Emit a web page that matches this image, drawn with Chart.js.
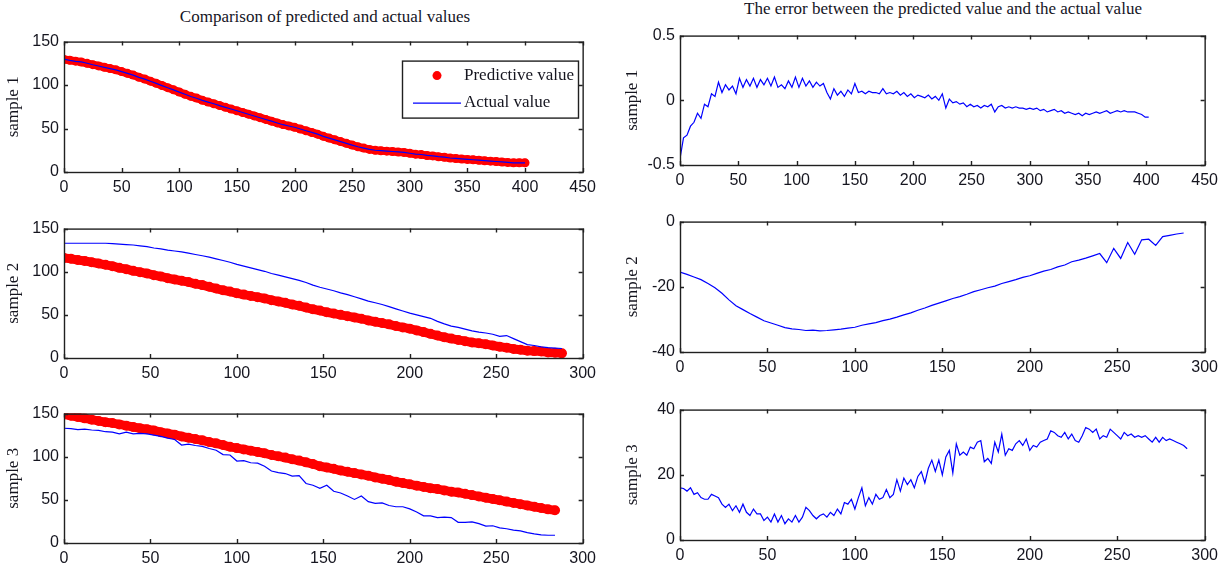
<!DOCTYPE html>
<html>
<head>
<meta charset="utf-8">
<title>Predicted vs actual</title>
<script src="https://cdn.jsdelivr.net/npm/chart.js@4.4.1/dist/chart.umd.min.js"></script>
<style>
  html, body { margin: 0; padding: 0; background: #fff; }
  #wrap { position: relative; width: 1229px; height: 572px; overflow: hidden; background: #fff; }
  #wrap canvas { position: absolute; }
  .ttl {
    position: absolute; white-space: nowrap; transform: translateX(-50%);
    font-family: 'Liberation Serif', 'Times New Roman', serif; font-size: 17px; color: #15151f;
  }
</style>
</head>
<body>
<div id="wrap">
  <div class="ttl" style="left:325px; top:7px;">Comparison of predicted and actual values</div>
  <div class="ttl" style="left:943px; top:-1px;">The error between the predicted value and the actual value</div>
</div>
<script>
(function () {
  'use strict';

  // sample index spacing of each stored series
  var s1Step = 5, s1ErrStep = 3;
  var s2Step = 4;
  var s3Step = 4, s3ErrStep = 2;

  // sample 1
  var s1Pred = [129.5,128.5,127.5,126.5,125,123.5,122,120.5,119,117.5,115.5,113.5,111.5,109,107,104.5,102,99.5,97,94.5,
    92,89.5,87,85,82.5,80.5,78.5,76.5,74.5,72.5,70.5,68.5,66.5,64.5,62.5,60.5,58.5,56.5,54.5,53,
    51.5,49.5,47.5,45.5,43.5,41,39,37,35,33,31,29,27.5,26,25,24.5,24,23.5,23,22.5,
    21.5,20.5,20,19,18.5,17.5,17,16,15.5,15,14.5,14,13.5,13,12.5,12,11.5,11,10.5,10.5,10.5];
  var s1Actual = [129.9,128.4,127.3,126.6,125.1,123.4,121.9,120.4,118.9,117.4,115.4,113.4,111.4,108.9,106.9,104.4,101.9,99.4,96.9,94.4,
    91.9,89.4,86.9,84.9,82.4,80.4,78.5,76.4,74.4,72.5,70.4,68.4,66.4,64.4,62.4,60.4,58.5,56.4,54.4,52.9,
    51.5,49.5,47.5,45.5,43.5,41,39,37,35,33,31,29,27.5,26,25,24.5,24,23.6,23.1,22.6,
    21.6,20.6,20.1,19.1,18.6,17.6,17.1,16.1,15.6,15.1,14.6,14.1,13.6,13.1,12.6,12.1,11.6,11.1,10.6,10.6,10.6];
  var s1Err = [-0.45,-0.29,-0.27,-0.2,-0.17,-0.1,-0.14,-0.03,-0.05,0.05,0.03,0.14,0.06,0.12,0.08,0.11,0.05,0.17,0.1,0.16,
    0.11,0.17,0.1,0.16,0.12,0.17,0.11,0.18,0.1,0.12,0.09,0.15,0.1,0.18,0.1,0.17,0.11,0.15,0.1,0.14,
    0.11,0.13,0.06,0.01,0.09,0.04,0.07,0.03,0.08,0.05,0.13,0.06,0.07,0.05,0.07,0.06,0.06,0.05,0.09,0.05,
    0.06,0.05,0.07,0.04,0.06,0.03,0.05,0.02,0.04,0.03,0.02,0.04,0.01,0.03,0,0.05,-0.06,0.01,-0.02,-0.01,
    -0.03,-0.02,-0.05,-0.03,-0.05,-0.04,-0.06,-0.04,-0.05,-0.03,-0.09,-0.05,-0.04,-0.06,-0.05,-0.06,-0.05,-0.06,-0.06,-0.07,
    -0.06,-0.07,-0.06,-0.08,-0.07,-0.09,-0.08,-0.07,-0.09,-0.08,-0.1,-0.09,-0.1,-0.11,-0.1,-0.12,-0.1,-0.11,-0.1,-0.09,
    -0.1,-0.09,-0.08,-0.1,-0.09,-0.08,-0.09,-0.08,-0.09,-0.09,-0.09,-0.1,-0.11,-0.13,-0.13];

  // sample 2
  var s2Pred = [116,115,113.5,112.5,111,109.5,108,106.5,104.5,103,101,99.5,98,96,94.5,92.5,91,89.5,88,86,
    84.5,82.5,80.5,78.5,77,75,73.5,72,70.5,69,67,65.5,64,62,60.5,58.5,56.5,55,53,51.5,
    50,48.5,47,45.5,43.5,42,40.5,39,37,35.5,34,32,30,28,26,24,22.5,21,19.5,18,
    17,16,14.5,13,12,10.5,9.5,8.5,8,7.5,6.5,6,5.5];
  var s2Actual = [133,133,133,133,133,133,133,132.5,132,131.5,131,130,129,127.5,126.5,125,124,123,121.5,120,
    118.5,117,115,113,111,108.5,106.5,104.5,102.5,100.5,98,96,94,92,90,87.5,84.5,82,80,78,
    75.5,73.5,71,68.5,66,64,62,59.5,57,54.5,52,50,48,46,42.5,39.5,37,35.5,33.5,31.5,
    30,29,27.5,25,26,22.5,19,15.5,14.5,13,12,11.5,11];
  var s2Err = [-15.5,-16.2,-17,-17.8,-19,-20.3,-22,-24,-25.8,-27,-28.2,-29.3,-30.4,-31.1,-31.8,-32.5,-32.9,-33.1,-33.4,-33.3,
    -33.5,-33.4,-33.2,-33,-32.7,-32.4,-31.8,-31.4,-31,-30.4,-29.9,-29.3,-28.6,-28,-27.2,-26.5,-25.7,-25,-24.3,-23.6,
    -23,-22.3,-21.5,-20.9,-20.3,-19.8,-19,-18.4,-17.8,-17.1,-16.6,-15.9,-15.2,-14.7,-13.9,-13.3,-12.3,-11.8,-11.2,-10.5,
    -9.8,-12.6,-8.2,-11.3,-6.4,-10,-5.6,-5.4,-7.3,-4.6,-4.2,-3.8,-3.5];

  // sample 3
  var s3Pred = [149,147.5,146,144.5,143,141.5,140,139,137.5,136,134.5,133,132,130.5,128.5,127,125.5,123.5,122,120.5,
    119,117,115.5,113.5,111.5,110,108.5,107,105.5,104,102,100.5,99,97,95.5,93.5,91.5,89,87.5,86,
    84,82.5,81,79.5,78,76,74.5,73,71,69.5,68,66.5,65,63.5,62.5,61,59.5,58.5,57,55.5,
    54,52.5,51,49.5,48,46.5,45,43.5,42,40.5,39,38];
  var s3Actual = [133,132.5,131.5,132,131,130.5,129,128.5,126.5,128.5,126.5,127,126.5,125,123.5,121.5,120,113.5,114.5,113,
    112,109.5,107.5,102.5,102,95,95.5,93,92.5,89,83.5,81.5,80.5,77.5,78,69,67,63.5,67,60,
    58,54.5,50.5,54.5,48,46,46.5,43.5,42,42,39.5,36,31.5,31.5,29.5,30,29.5,24,24,24.5,
    22.5,19.5,20,17.5,16.5,15,14,12,10.5,9.5,9,9];
  var s3Err = [16,15.8,15,16,14,14.5,13,12.5,12.5,14,13.5,13,11,10,11,9,10.5,8.5,11,8.5,
    7.5,9.5,8,8,6,7,5.5,8,5.5,7.5,5,6.5,5.5,7.5,5.5,7,10,9,7.5,6.5,
    7.5,8,7,8.5,7.5,9.5,8,11.5,11,12.5,9.5,13,16,10.5,13,11,14,12.5,13,15.5,
    13,14,18.5,15,19,17,18.5,16,19.5,21,17.5,22,24.5,21,24.5,20,25.5,27.5,20.5,29.5,
    26,27,26,28.5,28,30,30.5,24,25,23.5,30,27,32.5,26,28,27.5,29.5,30.5,29,31,
    27.5,29,28.5,30,30.5,31,33.5,33,32,31.5,33,31,32.5,30.5,30,32,34.5,34,33,34,
    31,32,31.5,34,33,32,31,33,32,32.5,31.5,32,31.5,32,31,30,31.5,30,31.5,30.5,
    31,30.5,30,29.5,29,28];

  var legendLabels = ['Predictive value', 'Actual value'];
  var axisLabels = ['sample 1', 'sample 2', 'sample 3'];
  var xTickStep = 50;

  var RED = '#ff0000', BLUE = '#0000ff', INK = '#15151f';
  var TICK_FONT = "'Liberation Sans', Arial, sans-serif";
  var SERIF = "'Liberation Serif', 'Times New Roman', serif";

  function pts(vals, step) {
    return vals.map(function (v, i) { return { x: i * step, y: v }; });
  }

  // dense red markers: a thick red stroke through the points plus the dots on top
  function predSet(vals, step, r) {
    return {
      label: legendLabels[0], data: pts(vals, step), showLine: true,
      borderColor: RED, borderWidth: 2 * r - 1, borderCapStyle: 'round', borderJoinStyle: 'round',
      pointRadius: r, pointBackgroundColor: RED, pointBorderColor: RED, pointBorderWidth: 0
    };
  }

  function lineSet(vals, step, label) {
    return {
      label: label, data: pts(vals, step), showLine: true, borderColor: BLUE,
      borderWidth: 1.2, pointRadius: 0, tension: 0
    };
  }

  // MATLAB style box with inward ticks on all four sides
  var boxPlugin = {
    id: 'mbox',
    afterDraw: function (chart) {
      var a = chart.chartArea, ctx = chart.ctx;
      var xs = chart.scales.x, ys = chart.scales.y, L = 4;
      ctx.save();
      ctx.strokeStyle = '#202020';
      ctx.lineWidth = 1.4;
      ctx.beginPath();
      xs.ticks.forEach(function (t) {
        var px = Math.round(xs.getPixelForValue(t.value)) + 0.5;
        ctx.moveTo(px, a.bottom); ctx.lineTo(px, a.bottom - L);
        ctx.moveTo(px, a.top); ctx.lineTo(px, a.top + L);
      });
      ys.ticks.forEach(function (t) {
        var py = Math.round(ys.getPixelForValue(t.value)) + 0.5;
        ctx.moveTo(a.left, py); ctx.lineTo(a.left + L, py);
        ctx.moveTo(a.right, py); ctx.lineTo(a.right - L, py);
      });
      ctx.stroke();
      ctx.strokeRect(a.left + 0.5, a.top + 0.5, a.right - a.left, a.bottom - a.top);
      ctx.restore();
    }
  };

  // legend drawn inside the first axes, top right
  var boxLegend = {
    id: 'boxLegend',
    afterDraw: function (chart, args, opts) {
      if (!opts || !opts.show) return;
      var a = chart.chartArea, ctx = chart.ctx;
      var x0 = a.left + 338, y0 = a.top + 19, w = 176, h = 57;
      var ds = chart.data.datasets;
      ctx.save();
      ctx.fillStyle = '#fff';
      ctx.fillRect(x0, y0, w, h);
      ctx.strokeStyle = '#202020';
      ctx.lineWidth = 1.4;
      ctx.strokeRect(x0 + 0.5, y0 + 0.5, w, h);
      ctx.font = '17px ' + SERIF;
      ctx.textBaseline = 'middle';
      ctx.textAlign = 'left';
      var r1 = y0 + 15, r2 = y0 + 42;
      // predicted: red dot
      ctx.beginPath();
      ctx.fillStyle = RED;
      ctx.arc(x0 + 35, r1, 4.5, 0, Math.PI * 2);
      ctx.fill();
      ctx.fillStyle = INK;
      ctx.fillText(ds[0].label, x0 + 62, r1);
      // actual: blue line
      ctx.beginPath();
      ctx.strokeStyle = BLUE;
      ctx.lineWidth = 1.2;
      ctx.moveTo(x0 + 11, r2 + 0.5); ctx.lineTo(x0 + 59, r2 + 0.5);
      ctx.stroke();
      ctx.fillText(ds[1].label, x0 + 62, r2);
      ctx.restore();
    }
  };

  var panels = [
    { rect: [64, 37, 586, 172], xMax: 450, yMin: 0, yMax: 150, yStep: 50, label: axisLabels[0], tpad: 3, legend: true,
      sets: [lineSet(s1Actual, s1Step, legendLabels[1]), predSet(s1Pred, s1Step, 4.5)] },
    { rect: [64, 224, 586, 358], xMax: 300, yMin: 0, yMax: 150, yStep: 50, label: axisLabels[1], tpad: 3,
      sets: [lineSet(s2Actual, s2Step, legendLabels[1]), predSet(s2Pred, s2Step, 5)] },
    { rect: [64, 409, 586, 543], xMax: 300, yMin: 0, yMax: 150, yStep: 50, label: axisLabels[2], tpad: 3,
      sets: [lineSet(s3Actual, s3Step, legendLabels[1]), predSet(s3Pred, s3Step, 5)] },
    { rect: [680, 31, 1208, 165], xMax: 450, yMin: -0.5, yMax: 0.5, yStep: 0.5, label: axisLabels[0], tpad: 6,
      sets: [lineSet(s1Err, s1ErrStep, 'error')] },
    { rect: [680, 217, 1208, 352], xMax: 300, yMin: -40, yMax: 0, yStep: 20, label: axisLabels[1], tpad: 6,
      sets: [lineSet(s2Err, s2Step, 'error')] },
    { rect: [680, 405, 1208, 540], xMax: 300, yMin: 0, yMax: 40, yStep: 20, label: axisLabels[2], tpad: 6,
      sets: [lineSet(s3Err, s3ErrStep, 'error')] }
  ];

  var YW = 64, XH = 30, PT = 10, PR = 16;
  var wrap = document.getElementById('wrap');

  panels.forEach(function (p) {
    var l = p.rect[0], t = p.rect[1], r = p.rect[2], b = p.rect[3];
    var cv = document.createElement('canvas');
    cv.width = (r - l) + YW + PR;
    cv.height = (b - t) + PT + XH;
    cv.style.left = (l - YW) + 'px';
    cv.style.top = (t - PT) + 'px';
    wrap.appendChild(cv);

    // the blue actual line sits on top of the red band in the comparison axes
    var sets = p.sets.length === 2 ? [p.sets[1], p.sets[0]] : p.sets;
    sets.forEach(function (d, i) { d.order = i === 0 && sets.length === 2 ? 1 : 0; });

    new Chart(cv, {
      type: 'scatter',
      data: { datasets: sets },
      plugins: [boxPlugin, boxLegend],
      options: {
        responsive: false,
        animation: false,
        devicePixelRatio: 1,
        events: [],
        layout: { padding: { left: 0, top: PT, right: PR, bottom: 0 } },
        plugins: {
          legend: { display: false },
          tooltip: { enabled: false },
          boxLegend: { show: !!p.legend }
        },
        scales: {
          x: {
            type: 'linear', min: 0, max: p.xMax,
            grid: { display: false, drawTicks: false },
            border: { display: false },
            ticks: { stepSize: xTickStep, padding: 6, maxRotation: 0, autoSkip: false, color: INK,
              font: { family: TICK_FONT, size: 16 } },
            afterFit: function (s) { s.height = XH; }
          },
          y: {
            type: 'linear', min: p.yMin, max: p.yMax,
            grid: { display: false, drawTicks: false },
            border: { display: false },
            ticks: { stepSize: p.yStep, padding: 5, color: INK, font: { family: TICK_FONT, size: 16 } },
            title: { display: true, text: p.label, color: INK, padding: { top: p.tpad, bottom: 0 },
              font: { family: SERIF, size: 17 } },
            afterFit: function (s) { s.width = YW; }
          }
        }
      }
    });
  });
})();
</script>
</body>
</html>
